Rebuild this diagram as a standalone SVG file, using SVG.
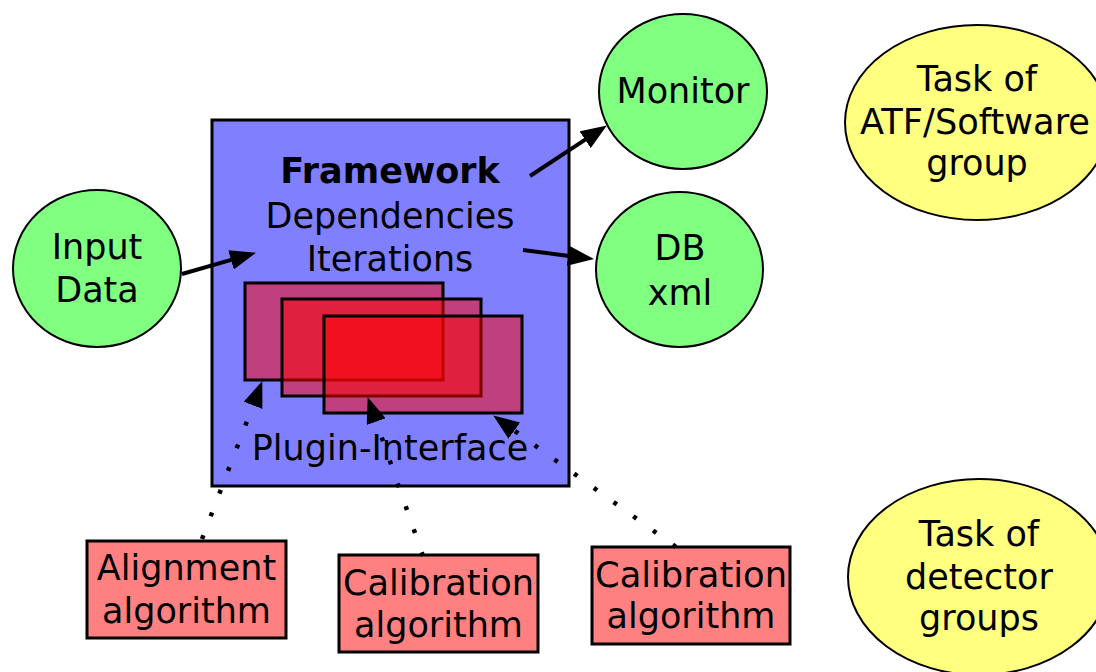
<svg xmlns="http://www.w3.org/2000/svg" width="1096" height="672" viewBox="0 0 1096 672">
  <style>
    text { font-family: "DejaVu Sans", "Liberation Sans", sans-serif; font-size: 35px; fill: #000; text-anchor: middle; }
    .bold { font-weight: bold; }
    .green { fill: #80ff80; stroke: #000; stroke-width: 2; }
    .yellow { fill: #ffff80; stroke: #000; stroke-width: 2; }
    .frame { fill: #8080ff; stroke: #000; stroke-width: 3; }
    .plug { fill: #ff0000; fill-opacity: 0.5; stroke: #000; stroke-width: 3; }
    .algo { fill: #ff8080; stroke: #000; stroke-width: 3; }
    .solid { fill: none; stroke: #000; stroke-width: 4; marker-end: url(#arrow); }
    .dotted { fill: none; stroke: #000; stroke-width: 4.5; stroke-dasharray: 4 20.3; marker-end: url(#arrow); }
  </style>
  <defs>
    <marker id="arrow" viewBox="0 0 26 20" refX="1" refY="10" markerWidth="26" markerHeight="20" markerUnits="userSpaceOnUse" orient="auto">
      <path d="M0,0 L26,10 L0,20 z" fill="#000"/>
    </marker>
  </defs>

  <rect width="1096" height="672" fill="#ffffff"/>

  <g id="framework">
    <rect class="frame" x="212" y="120" width="357" height="366"/>
    <text class="bold" x="390" y="183">Framework</text>
    <text x="390" y="228">Dependencies</text>
    <text x="390" y="271">Iterations</text>
    <text x="390" y="460">Plugin-Interface</text>
  </g>

  <g id="plugins">
    <rect class="plug" x="245" y="283" width="198" height="97"/>
    <rect class="plug" x="282" y="299" width="199" height="97"/>
    <rect class="plug" x="324" y="316" width="198" height="97"/>
  </g>

  <g id="input-data">
    <ellipse class="green" cx="97" cy="268.5" rx="84" ry="78.5"/>
    <text x="97" y="259">Input</text>
    <text x="97" y="302">Data</text>
  </g>

  <g id="monitor">
    <ellipse class="green" cx="683" cy="91.5" rx="84" ry="77.5"/>
    <text x="683" y="103">Monitor</text>
  </g>

  <g id="db-xml">
    <ellipse class="green" cx="679.5" cy="269.5" rx="83.5" ry="77.5"/>
    <text x="680" y="260">DB</text>
    <text x="680" y="305">xml</text>
  </g>

  <g id="task-atf">
    <ellipse class="yellow" cx="977" cy="122.5" rx="132" ry="97.5"/>
    <text x="977" y="91">Task of</text>
    <text x="975" y="134" textLength="230" lengthAdjust="spacingAndGlyphs">ATF/Software</text>
    <text x="977" y="175">group</text>
  </g>

  <g id="task-detector">
    <ellipse class="yellow" cx="979" cy="577" rx="131" ry="98"/>
    <text x="979" y="546">Task of</text>
    <text x="979" y="589">detector</text>
    <text x="979" y="630">groups</text>
  </g>

  <g id="alignment">
    <rect class="algo" x="87" y="541" width="199" height="97"/>
    <text x="186.5" y="580">Alignment</text>
    <text x="186.5" y="623">algorithm</text>
  </g>

  <g id="calibration-1">
    <rect class="algo" x="339" y="555" width="199" height="97"/>
    <text x="438.5" y="595" textLength="191" lengthAdjust="spacingAndGlyphs">Calibration</text>
    <text x="438.5" y="637">algorithm</text>
  </g>

  <g id="calibration-2">
    <rect class="algo" x="592" y="547" width="198" height="97"/>
    <text x="691" y="587" textLength="192" lengthAdjust="spacingAndGlyphs">Calibration</text>
    <text x="691" y="628">algorithm</text>
  </g>

  <g id="connectors">
    <path class="solid" d="M182,274 L232,259.6"/>
    <path class="solid" d="M530,176 L586,139.2"/>
    <path class="solid" d="M523,250 L569.2,255.9"/>
    <path class="dotted" d="M202,539 L253.4,404.4"/>
    <path class="dotted" d="M423,556 L375.9,420.7"/>
    <path class="dotted" d="M676,547 L513.5,430"/>
  </g>
</svg>
